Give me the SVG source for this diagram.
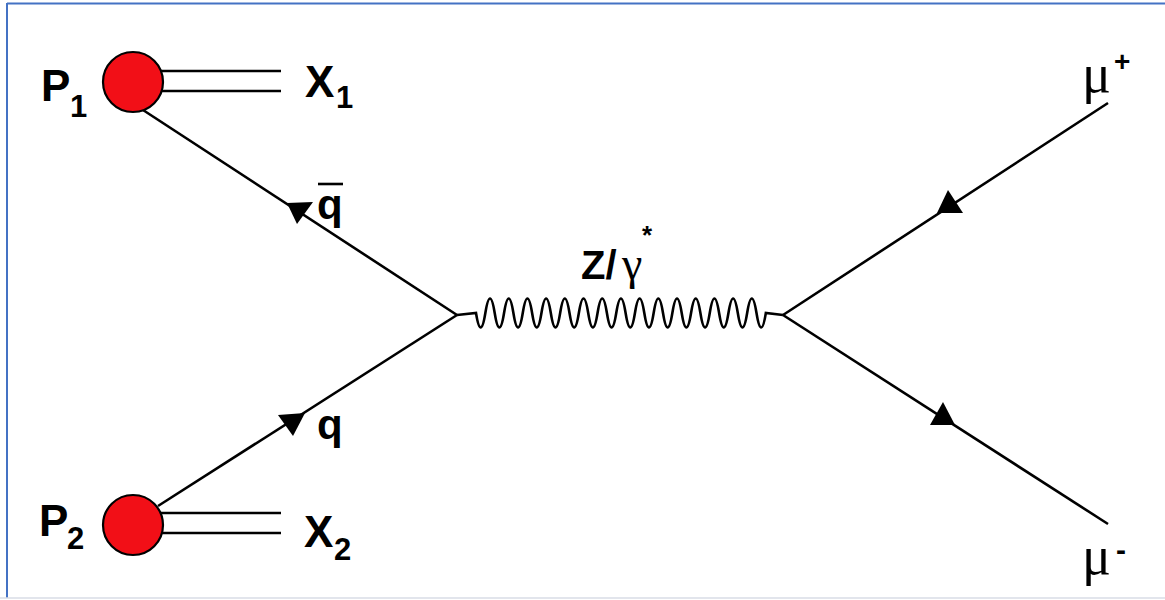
<svg xmlns="http://www.w3.org/2000/svg" width="1165" height="600" viewBox="0 0 1165 600">
  <style>
    .ln { stroke: #000; stroke-width: 2.6; fill: none; stroke-linecap: butt; }
    .blob { fill: #F20F17; stroke: #000; stroke-width: 2.2; }
    .lab { font-family: "Liberation Sans", Arial, sans-serif; font-weight: bold; fill: #000; }
    .sym { font-family: "Liberation Serif", "Times New Roman", serif; fill: #000; }
    .arr { fill: #000; stroke: none; }
  </style>
  <rect x="0" y="0" width="1165" height="600" fill="#fff"/>
  <g id="frame">
    <line x1="7" y1="3.5" x2="1165" y2="3.5" stroke="#4472C4" stroke-width="2"/>
    <line x1="7" y1="3" x2="7" y2="598" stroke="#4472C4" stroke-width="2"/>
    <line x1="0" y1="598" x2="1165" y2="598" stroke="#D9DDE6" stroke-width="1.5"/>
  </g>
  <g id="connectors">
    <line class="ln" x1="160" y1="71" x2="281" y2="71"/>
    <line class="ln" x1="160" y1="91" x2="281" y2="91"/>
    <line class="ln" x1="160" y1="513" x2="281" y2="513"/>
    <line class="ln" x1="160" y1="533" x2="281" y2="533"/>
    <line class="ln" x1="143" y1="110" x2="457" y2="315"/>
    <line class="ln" x1="158" y1="506" x2="457" y2="315"/>
    <line class="ln" x1="783" y1="315" x2="1108" y2="103"/>
    <line class="ln" x1="783" y1="315" x2="1108" y2="524"/>
    <path class="ln" d="M457,315 L476,313 Q480.675,342 485.35,313 T494.7,313 T504.05,313 T513.4,313 T522.75,313 T532.1,313 T541.45,313 T550.8,313 T560.15,313 T569.5,313 T578.85,313 T588.2,313 T597.55,313 T606.9,313 T616.25,313 T625.6,313 T634.95,313 T644.3,313 T653.65,313 T663,313 T672.35,313 T681.7,313 T691.05,313 T700.4,313 T709.75,313 T719.1,313 T728.45,313 T737.8,313 T747.15,313 T756.5,313 T765.85,313 L783,315"/>
    <polygon class="arr" points="287,203 313,202 297,224"/>
    <polygon class="arr" points="305,413 278,415 293,436"/>
    <polygon class="arr" points="937,213 948,190 963,213"/>
    <polygon class="arr" points="955,425 943,402 930,425"/>
    <line class="ln" x1="318" y1="184" x2="343" y2="184"/>
  </g>
  <g id="p1">
    <circle class="blob" cx="133" cy="82" r="30"/>
    <text class="lab" x="41" y="101" font-size="44">P</text>
    <text class="lab" x="70" y="117" font-size="31">1</text>
  </g>
  <g id="p2">
    <circle class="blob" cx="133" cy="525" r="30"/>
    <text class="lab" x="39" y="536" font-size="44">P</text>
    <text class="lab" x="67" y="549" font-size="31">2</text>
  </g>
  <g id="x1">
    <text class="lab" x="305" y="97" font-size="44">X</text>
    <text class="lab" x="336" y="108" font-size="31">1</text>
  </g>
  <g id="x2">
    <text class="lab" x="304" y="547" font-size="44">X</text>
    <text class="lab" x="334" y="560" font-size="31">2</text>
  </g>
  <g id="qbar">
    <text class="lab" x="317" y="219" font-size="42">q</text>
  </g>
  <g id="q">
    <text class="lab" x="317" y="439" font-size="42">q</text>
  </g>
  <g id="boson">
    <text class="lab" x="581" y="279" font-size="40">Z/</text>
    <text class="sym" x="622" y="279" font-size="46">γ</text>
    <text class="lab" x="642" y="244" font-size="26">*</text>
  </g>
  <g id="muplus">
    <text class="sym" x="1082" y="92" font-size="54">μ</text>
    <text class="lab" x="1114" y="71" font-size="28">+</text>
  </g>
  <g id="muminus">
    <text class="sym" x="1082" y="574" font-size="54">μ</text>
    <text class="lab" x="1116" y="560" font-size="30">-</text>
  </g>
</svg>
